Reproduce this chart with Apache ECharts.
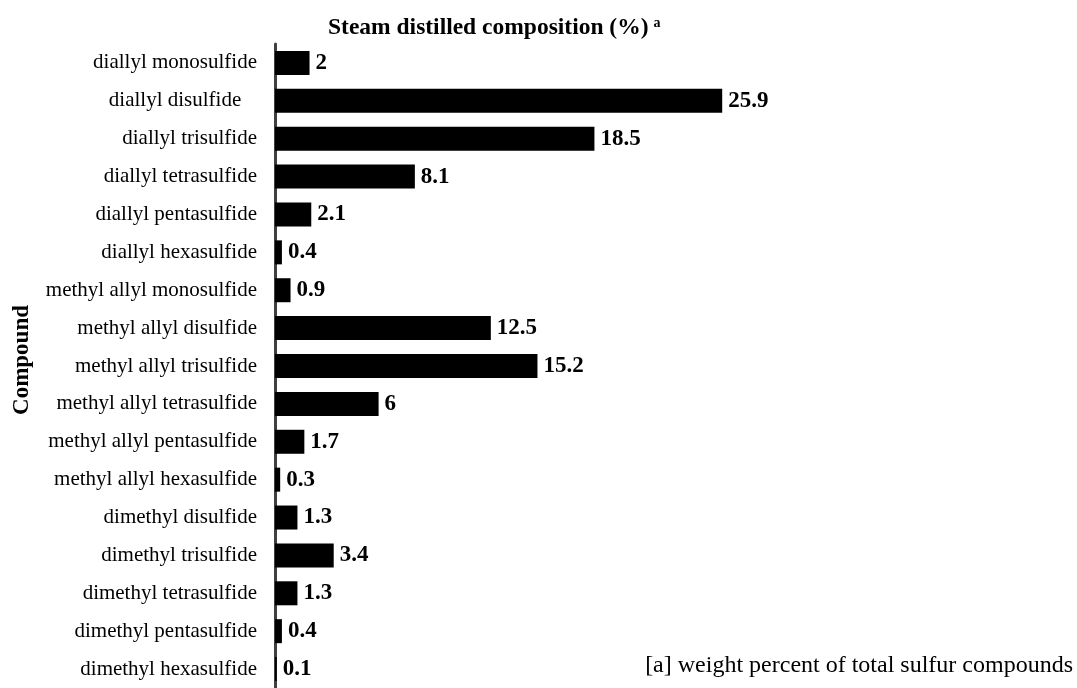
<!DOCTYPE html>
<html>
<head>
<meta charset="utf-8">
<script src="https://cdn.jsdelivr.net/npm/echarts@6/dist/echarts.min.js"></script>
<style>
html,body{margin:0;padding:0;background:#fff;}
#chart{width:1077px;height:688px;}
</style>
</head>
<body>
<div id="chart"></div>
<script>
var categories = [
  'diallyl monosulfide',
  'diallyl disulfide   ',
  'diallyl trisulfide',
  'diallyl tetrasulfide',
  'diallyl pentasulfide',
  'diallyl hexasulfide',
  'methyl allyl monosulfide',
  'methyl allyl disulfide',
  'methyl allyl trisulfide',
  'methyl allyl tetrasulfide',
  'methyl allyl pentasulfide',
  'methyl allyl hexasulfide',
  'dimethyl disulfide',
  'dimethyl trisulfide',
  'dimethyl tetrasulfide',
  'dimethyl pentasulfide',
  'dimethyl hexasulfide'
];
var values = [2, 25.9, 18.5, 8.1, 2.1, 0.4, 0.9, 12.5, 15.2, 6, 1.7, 0.3, 1.3, 3.4, 1.3, 0.4, 0.1];
var titleText = 'Steam distilled composition (%)';
var axisName = 'Compound';
var footnote = '[a] weight percent of total sulfur compounds';

var FONT = '"Liberation Serif", "Times New Roman", serif';
var chart = echarts.init(document.getElementById('chart'));
chart.setOption({
  animation: false,
  backgroundColor: '#ffffff',
  title: {
    text: '{m|' + titleText + '} {s|a}',
    left: 323,
    top: 11,
    textStyle: {
      rich: {
        m: {fontFamily: FONT, fontWeight: 'bold', fontSize: 23.5, color: '#000'},
        s: {fontFamily: FONT, fontWeight: 'bold', fontSize: 14, color: '#000', verticalAlign: 'top', padding: [0,0,9,0]}
      }
    }
  },
  grid: {left: 275, top: 44, width: 518, height: 651},
  xAxis: {
    type: 'value', min: 0, max: 30, show: false
  },
  yAxis: {
    type: 'category',
    data: categories,
    inverse: true,
    axisLine: {show: true, lineStyle: {color: '#404040', width: 3}},
    axisTick: {show: false},
    splitLine: {show: false},
    axisLabel: {
      margin: 18,
      fontFamily: FONT,
      fontSize: 21,
      color: '#000'
    }
  },
  series: [{
    type: 'bar',
    data: values,
    barWidth: 24,
    itemStyle: {color: '#000'},
    label: {
      show: true,
      position: 'right',
      distance: 6,
      fontFamily: FONT,
      fontWeight: 'bold',
      fontSize: 23,
      color: '#000'
    }
  }],
  graphic: [
    {
      type: 'text',
      x: 22, y: 360,
      rotation: Math.PI / 2,
      style: {
        text: axisName,
        fontFamily: FONT, fontWeight: 'bold', fontSize: 23,
        fill: '#000', align: 'center', verticalAlign: 'middle'
      }
    },
    {
      type: 'text',
      x: 1073, y: 666,
      style: {
        text: footnote,
        fontFamily: FONT, fontSize: 24,
        fill: '#000', align: 'right', verticalAlign: 'middle'
      }
    }
  ]
});
</script>
</body>
</html>
